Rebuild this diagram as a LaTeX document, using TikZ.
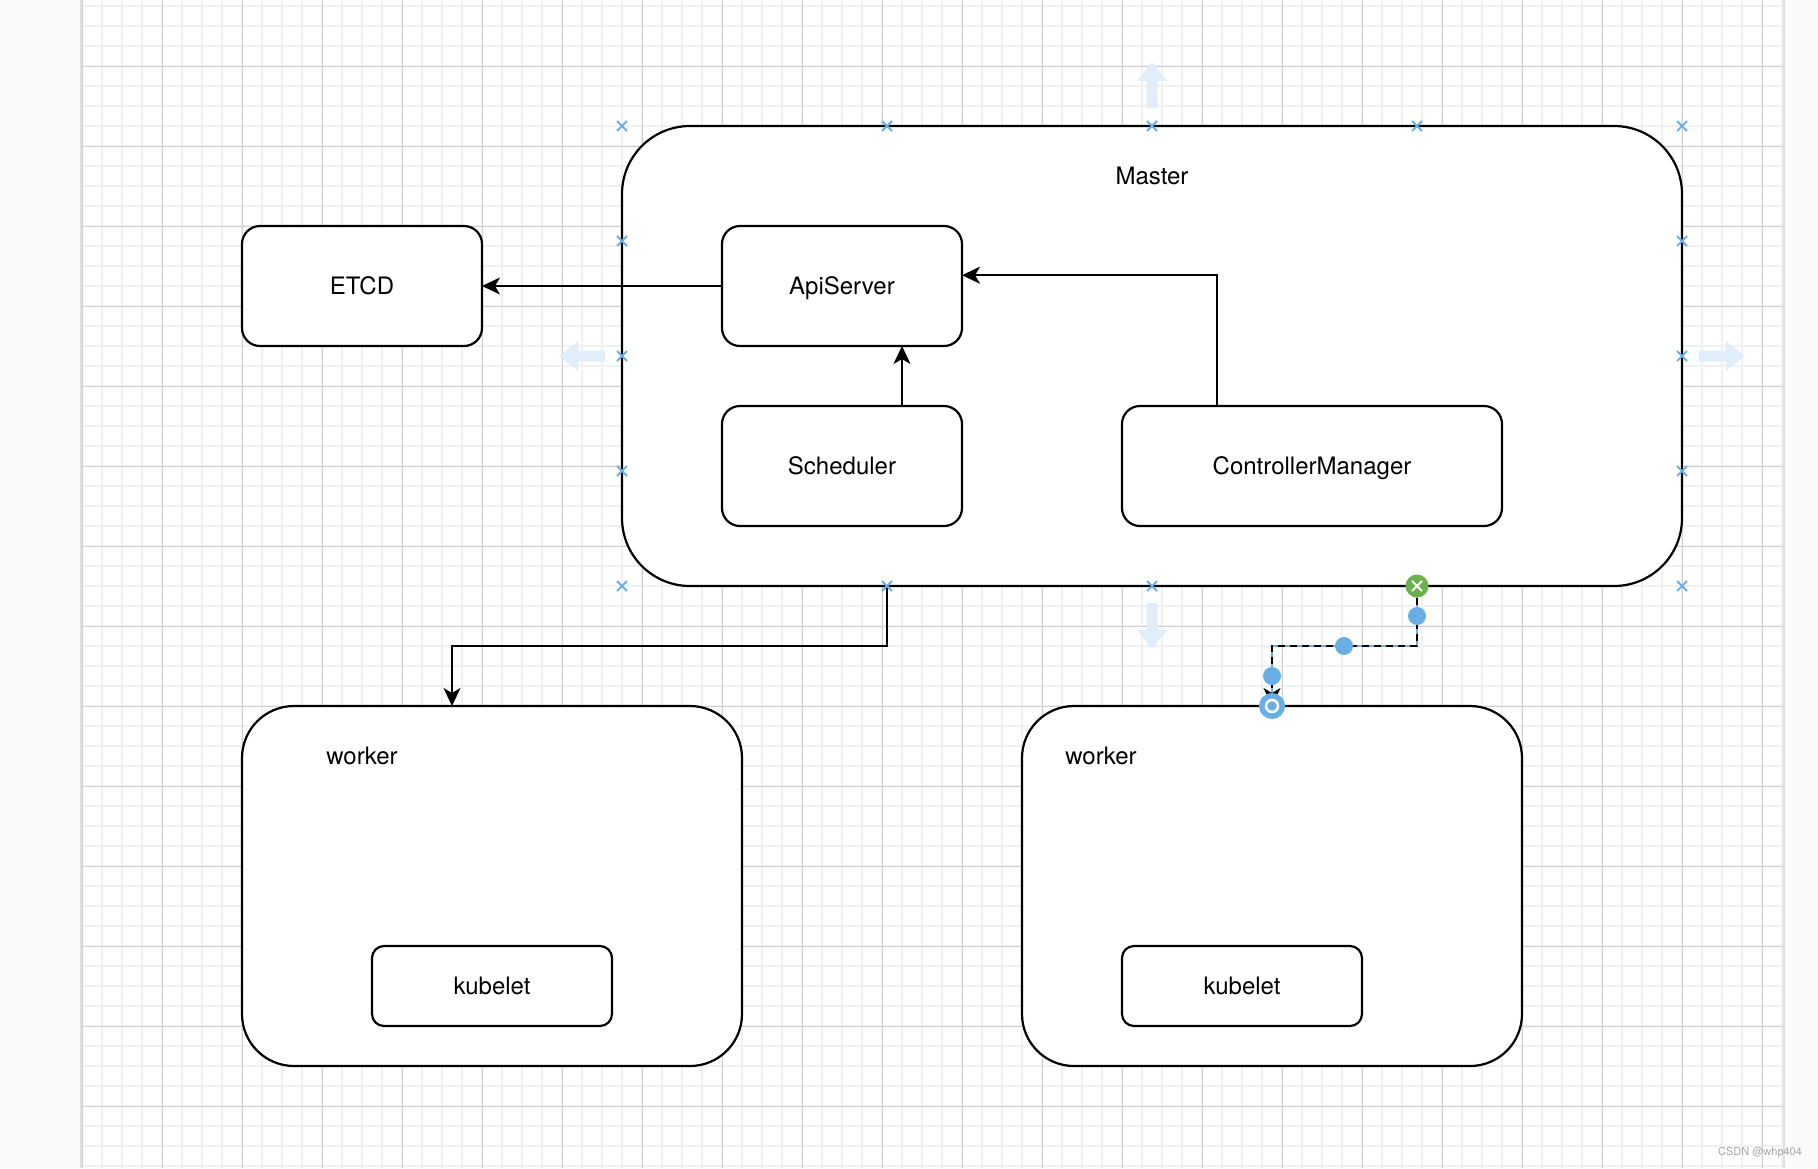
\documentclass[tikz,border=0pt]{standalone}
\usepackage{fontspec}
\setmainfont{TeX Gyre Heros}
\usepackage{tikz}
\usetikzlibrary{positioning,calc,arrows.meta}
\definecolor{pagegray}{RGB}{250,250,250}
\definecolor{gridminor}{RGB}{241,241,241}
\definecolor{gridmajor}{RGB}{208,208,208}
\definecolor{selblue}{RGB}{106,174,230}
\definecolor{hoverblue}{RGB}{224,238,250}
\definecolor{okgreen}{RGB}{108,178,76}
\tikzstyle{box} = [rectangle, rounded corners=18pt, minimum width=240pt, minimum height=120pt, text centered, draw=black, line width=2.2pt, fill=white, outer sep=0pt, text height=17pt, text depth=0pt, font=\fontsize{24}{28}\selectfont]
\tikzstyle{bigbox} = [box, rounded corners=52pt, minimum width=500pt, minimum height=360pt]
\tikzstyle{smallbox} = [box, rounded corners=12pt, minimum height=80pt]
\tikzstyle{boxtitle} = [inner sep=0pt, text height=17pt, text depth=0pt, font=\fontsize{24}{28}\selectfont]
\tikzstyle{arrow} = [line width=2pt, -{Stealth[length=18pt,width=17pt,inset=5pt]}]
\tikzstyle{xmark} = [selblue, line width=1.8pt]

\begin{document}
\begin{tikzpicture}[x=1pt,y=-1pt]
\useasboundingbox (0,0) rectangle (1818,1168);
% canvas and grid
\fill[pagegray] (0,0) rectangle (1818,1168);
\fill[white] (82,0) rectangle (1783,1168);
\foreach \gx in {82,102,...,1782} \draw[gridminor, line width=2pt] (\gx,0) -- (\gx,1168);
\foreach \gy in {6,26,...,1166} \draw[gridminor, line width=2pt] (82,\gy) -- (1783,\gy);
\foreach \gx in {82,162,...,1762} \draw[gridmajor, line width=1pt] (\gx,0) -- (\gx,1168);
\foreach \gy in {66,146,...,1146} \draw[gridmajor, line width=1pt] (82,\gy) -- (1783,\gy);
\draw[gray!25, line width=2pt] (81,0) -- (81,1168) (1784,0) -- (1784,1168);

% hover arrows
\foreach \ax/\ay/\ang in {1152/108/0, 605/356/90, 1699/356/-90, 1152/603/180}
  \fill[hoverblue, shift={(\ax,\ay)}, rotate=\ang] (-5.5,0) -- (-5.5,-27) -- (-15,-27) -- (0,-46) -- (15,-27) -- (5.5,-27) -- (5.5,0) -- cycle;

% master
\node (master) [box, rounded corners=68pt, minimum width=1060pt, minimum height=460pt] at (1152,356) {};
\node (mastertitle) [boxtitle] at (1152,176) {Master};
\node (apiserver) [box] at (842,286) {ApiServer};
\node (etcd) [box, left=240pt of apiserver] {ETCD};
\node (scheduler) [box, below=60pt of apiserver] {Scheduler};
\node (ctrlmgr) [box, minimum width=380pt] at (1312,466) {ControllerManager};

% workers
\node (workerl) [bigbox] at (492,886) {};
\node (workerltitle) [boxtitle] at (362,756) {worker};
\node (kubeletl) [smallbox] at (492,986) {kubelet};
\node (workerr) [bigbox, right=280pt of workerl] {};
\node (workerrtitle) [boxtitle] at (1101,756) {worker};
\node (kubeletr) [smallbox, right=510pt of kubeletl] {kubelet};

% connectors
\draw [arrow] (apiserver.west) -- (etcd.east);
\draw [arrow] ($(scheduler.north west)!.75!(scheduler.north east)$) -- ($(apiserver.south west)!.75!(apiserver.south east)$);
\draw [arrow] ($(ctrlmgr.north west)!.25!(ctrlmgr.north east)$) |- ($(apiserver.north east)!.41!(apiserver.south east)$);
\draw [arrow] ($(master.south west)!.25!(master.south east)$) -- ++(0,60) -| ($(workerl.north west)!.42!(workerl.north east)$);
\draw [selblue, line width=2pt] ($(master.south west)!.75!(master.south east)$) -- ++(0,60) -| (workerr.north);
\draw [arrow, dash pattern=on 7pt off 5pt] ($(master.south west)!.75!(master.south east)$) -- ++(0,60) -| (workerr.north);

% connection points of the selected shape
\foreach \px/\py in {622/126, 887/126, 1152/126, 1417/126, 1682/126, 622/586, 887/586, 1152/586, 1682/586, 622/241, 622/356, 622/471, 1682/241, 1682/356, 1682/471}
  \draw[xmark] (\px,\py) ++(-5,-5) -- ++(10,10) ++(-10,0) -- ++(10,-10);

% handles
\fill[okgreen] ($(master.south west)!.75!(master.south east)$) circle (11.5pt);
\draw[white, line width=2pt] ($(master.south west)!.75!(master.south east)$) ++(-5,-5) -- ++(10,10) ++(-10,0) -- ++(10,-10);
\foreach \hx/\hy in {1417/616, 1344/646, 1272/676}
  \fill[selblue] (\hx,\hy) circle (9pt);
\fill[selblue] (workerr.north) circle (13pt);
\draw[white, line width=2.5pt] (workerr.north) circle (6pt);

\node (watermark) [font=\fontsize{11}{13}\selectfont, text=gray!70] at (1760,1153) {CSDN @whp404};
\end{tikzpicture}
\end{document}
